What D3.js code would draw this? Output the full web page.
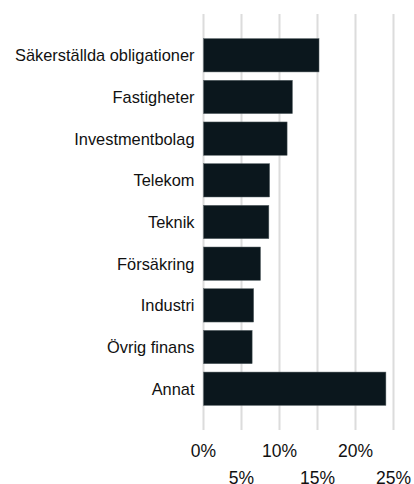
<!DOCTYPE html>
<html><head><meta charset="utf-8">
<script src="https://cdn.jsdelivr.net/npm/d3@7/dist/d3.min.js"></script>
<style>html,body{margin:0;padding:0;background:#fff;}svg{display:block;}</style>
</head><body>
<script>
const categories = ["Säkerställda obligationer","Fastigheter","Investmentbolag","Telekom","Teknik","Försäkring","Industri","Övrig finans","Annat"];
const values = [15.2, 11.7, 11.0, 8.7, 8.6, 7.5, 6.6, 6.4, 24.0];
const tickValues = [0, 5, 10, 15, 20, 25];
const tickLabels = ["0%","5%","10%","15%","20%","25%"];

const W = 414, H = 484;
const svg = d3.select("body").append("svg").attr("width", W).attr("height", H);
const x = d3.scaleLinear().domain([0, 25]).range([203.5, 393.5]);
const y = d3.scaleBand().domain(categories).range([14, 430]).paddingInner(0.2).paddingOuter(0.59);

// grid
svg.append("g").selectAll("line").data(tickValues).join("line")
  .attr("x1", d => x(d)).attr("x2", d => x(d))
  .attr("y1", 14).attr("y2", 430)
  .attr("stroke", "#dcdcdc").attr("stroke-width", 2);

// bars
svg.append("g").selectAll("rect").data(values).join("rect")
  .attr("x", x(0)).attr("y", (d, i) => y(categories[i]))
  .attr("width", d => x(d) - x(0)).attr("height", y.bandwidth())
  .attr("fill", "#0b171d").attr("stroke", "#5a6468").attr("stroke-width", 0.5);

// category labels
svg.append("g").selectAll("text").data(categories).join("text")
  .attr("x", 194.5).attr("y", d => y(d) + y.bandwidth() / 2)
  .attr("text-anchor", "end").attr("dominant-baseline", "central")
  .attr("font-family", "Liberation Sans, Arial, sans-serif").attr("font-size", 16.4)
  .attr("fill", "#111").text(d => d);

// x tick labels (staggered)
svg.append("g").selectAll("text").data(tickValues).join("text")
  .attr("x", d => x(d)).attr("y", (d, i) => i % 2 === 0 ? 457 : 484)
  .attr("text-anchor", "middle")
  .attr("font-family", "Liberation Sans, Arial, sans-serif").attr("font-size", 17.5)
  .attr("fill", "#111").text((d, i) => tickLabels[i]);
</script>
</body></html>
